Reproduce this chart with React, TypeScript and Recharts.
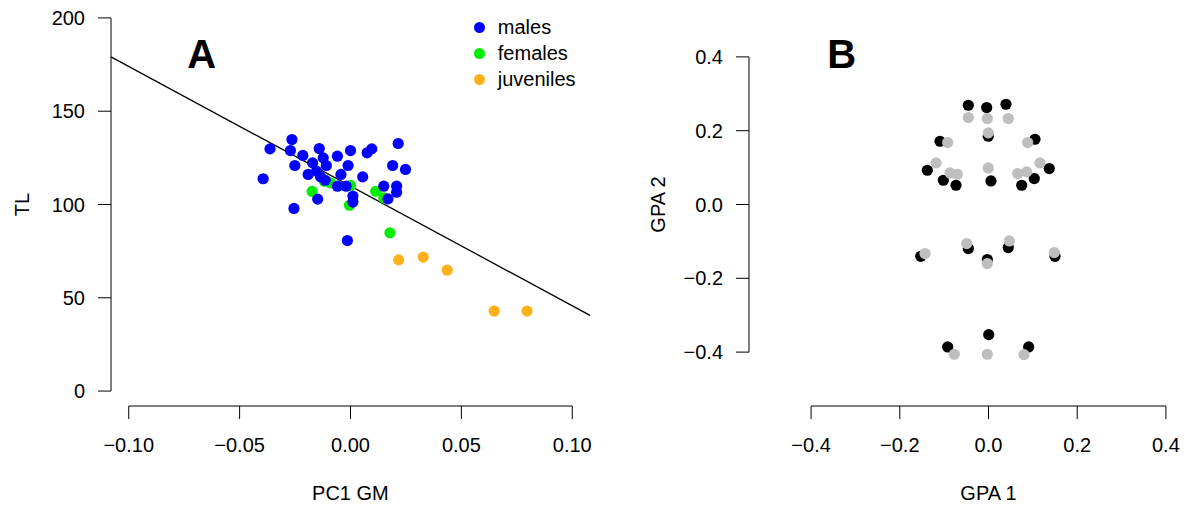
import React from 'react';
import { ScatterChart, Scatter, XAxis, YAxis, ReferenceLine, Legend, Customized } from 'recharts';

const FONT = '"Liberation Sans", Arial, Helvetica, sans-serif';

// ---------- Panel A data (PC1 GM vs TL) ----------
const malesPC1 = [-0.0394, -0.0363, -0.0264, -0.0271, -0.0251, -0.0255, -0.0215, -0.0191, -0.0171, -0.0141, -0.0123, -0.0109, -0.0148, -0.0153, -0.0135, -0.0114, -0.0059, 0.0, -0.0011, -0.0043, -0.0059, -0.002, 0.0011, 0.0011, -0.0014, 0.0055, 0.0075, 0.0096, 0.015, 0.0169, 0.019, 0.0208, 0.0208, 0.0215, 0.0248];
const malesTL = [113.8, 129.8, 134.8, 128.9, 120.9, 97.9, 126.3, 116.1, 122.3, 130.0, 125.0, 120.9, 102.9, 117.9, 114.8, 113.0, 125.9, 128.9, 120.9, 116.1, 109.8, 109.8, 104.5, 101.3, 80.7, 114.8, 127.7, 129.8, 109.8, 103.0, 120.9, 109.8, 106.6, 132.7, 118.8];
const femalesPC1 = [-0.0173, -0.0118, -0.0091, 0.0, -0.0005, 0.0114, 0.015, 0.0178];
const femalesTL = [107.0, 112.5, 111.6, 110.2, 99.6, 107.1, 103.6, 84.8];
const juvenilesPC1 = [0.0217, 0.0328, 0.0436, 0.0648, 0.0796];
const juvenilesTL = [70.3, 71.8, 64.8, 42.9, 42.9];
const fitLinePC1 = [-0.108, 0.108];
const fitLineTL = [179.1, 40.6];

const seriesNamesA = ['males', 'females', 'juveniles'];
const seriesColorsA = ['#0000FF', '#00EE00', '#FFB11B'];

const xTicksA = [-0.1, -0.05, 0, 0.05, 0.1];
const yTicksA = [0, 50, 100, 150, 200];

// ---------- Panel B data (GPA 1 vs GPA 2) ----------
const blackGPA1 = [-0.0455, -0.0041, 0.0394, -0.1093, -0.0005, 0.1048, -0.1379, -0.1018, -0.0732, 0.0056, 0.0748, 0.1032, 0.137, -0.1528, -0.0455, -0.0027, 0.0446, 0.1499, 0.0005, -0.092, 0.0906];
const blackGPA2 = [0.269, 0.2627, 0.2717, 0.1714, 0.185, 0.1768, 0.0928, 0.0657, 0.0522, 0.0638, 0.0522, 0.0703, 0.0974, -0.1403, -0.1194, -0.1492, -0.1167, -0.1403, -0.3526, -0.386, -0.386];
const greyGPA1 = [-0.0455, -0.0027, 0.0446, -0.092, -0.0005, 0.0883, -0.1183, -0.0868, -0.0703, -0.0005, 0.0658, 0.0861, 0.116, -0.1431, -0.0491, -0.0027, 0.0469, 0.1483, -0.0771, -0.0027, 0.08];
const greyGPA2 = [0.2356, 0.2329, 0.2329, 0.1679, 0.194, 0.1679, 0.1126, 0.0855, 0.082, 0.0991, 0.0839, 0.0883, 0.1126, -0.1329, -0.1058, -0.16, -0.0988, -0.1302, -0.4058, -0.4058, -0.4067];

const xTicksB = [-0.4, -0.2, 0, 0.2, 0.4];
const yTicksB = [-0.4, -0.2, 0, 0.2, 0.4];

const zip = (xs: number[], ys: number[]) => xs.map((x, i) => ({ x, y: ys[i] }));

const males = zip(malesPC1, malesTL);
const females = zip(femalesPC1, femalesTL);
const juveniles = zip(juvenilesPC1, juvenilesTL);
const blackPts = zip(blackGPA1, blackGPA2);
const greyPts = zip(greyGPA1, greyGPA2);

const minus = (s: string) => s.replace('-', '\u2212');
const fmt2 = (v: number) => minus((Math.abs(v) < 1e-9 ? 0 : v).toFixed(2));
const fmt1 = (v: number) => minus((Math.abs(v) < 1e-9 ? 0 : v).toFixed(1));

const tickStyle = { fill: '#000', fontSize: 20, fontFamily: FONT };
const tickLineStyle = { stroke: '#000', strokeWidth: 1 };

const dot = (color: string) => (p: any) => (
  <circle cx={p.cx} cy={p.cy} r={5.6} fill={color} stroke="none" />
);

const LegendA = (props: any) => {
  const payload = (props.payload || []).filter((e: any) => seriesNamesA.includes(e.value));
  const entries = payload.length
    ? [...payload].sort((a: any, b: any) => seriesNamesA.indexOf(a.value) - seriesNamesA.indexOf(b.value)).map((e: any) => ({ name: e.value, color: e.color }))
    : seriesNamesA.map((n, i) => ({ name: n, color: seriesColorsA[i] }));
  return (
    <div style={{ fontFamily: FONT, fontSize: 20, color: '#000' }}>
      {entries.map((e: any) => (
        <div key={e.name} style={{ display: 'flex', alignItems: 'center', height: 26 }}>
          <span style={{ display: 'inline-block', width: 11, height: 11, borderRadius: '50%', background: e.color, marginRight: 13 }} />
          <span>{e.name}</span>
        </div>
      ))}
    </div>
  );
};

const TextsA = () => (
  <g fontFamily={FONT} fill="#000">
    <text x={201.7} y={68.3} fontSize={40} fontWeight="bold" textAnchor="middle">A</text>
    <text x={21.7} y={204.5} fontSize={20} textAnchor="middle" dy="0.36em" transform="rotate(-90 21.7 204.5)">TL</text>
    <text x={350.4} y={500} fontSize={20} textAnchor="middle">PC1 GM</text>
  </g>
);

const TextsB = () => (
  <g fontFamily={FONT} fill="#000">
    <text x={221.7} y={68.3} fontSize={40} fontWeight="bold" textAnchor="middle">B</text>
    <text x={38.3} y={204.5} fontSize={20} textAnchor="middle" dy="0.36em" transform="rotate(-90 38.3 204.5)">GPA 2</text>
    <text x={368.5} y={500} fontSize={20} textAnchor="middle">GPA 1</text>
  </g>
);

const X_DOMAIN_A: [number, number] = [-0.108, 0.108];
const Y_DOMAIN_A: [number, number] = [-8, 208];
const X_DOMAIN_B: [number, number] = [-0.54, 0.54];
const Y_DOMAIN_B: [number, number] = [-0.546, 0.546];

export default function App() {
  return (
    <div style={{ position: 'absolute', left: 0, top: 0, width: 1185, height: 506, overflow: 'hidden', background: '#fff' }}>
      <div style={{ position: 'absolute', left: 0, top: 0 }}>
        <ScatterChart width={600} height={506} margin={{ top: 3, right: 10, bottom: 0, left: 0 }}>
          <XAxis type="number" dataKey="x" domain={X_DOMAIN_A} ticks={xTicksA} tickFormatter={fmt2} axisLine={false}
            tickSize={13} tickMargin={19} tick={tickStyle} tickLine={tickLineStyle} height={100} allowDataOverflow interval={0} />
          <YAxis type="number" dataKey="y" domain={Y_DOMAIN_A} ticks={yTicksA} axisLine={false}
            tickSize={13} tickMargin={13} tick={tickStyle} tickLine={tickLineStyle} width={111} allowDataOverflow interval={0} />
          <ReferenceLine ifOverflow="visible" stroke="#000" strokeWidth={1}
            segment={[{ x: X_DOMAIN_A[0], y: yTicksA[0] }, { x: X_DOMAIN_A[0], y: yTicksA[yTicksA.length - 1] }]} />
          <ReferenceLine ifOverflow="visible" stroke="#000" strokeWidth={1}
            segment={[{ x: xTicksA[0], y: Y_DOMAIN_A[0] }, { x: xTicksA[xTicksA.length - 1], y: Y_DOMAIN_A[0] }]} />
          <ReferenceLine ifOverflow="visible" stroke="#000" strokeWidth={1.3}
            segment={[{ x: fitLinePC1[0], y: fitLineTL[0] }, { x: fitLinePC1[1], y: fitLineTL[1] }]} />
          <Scatter name={seriesNamesA[1]} data={females} fill={seriesColorsA[1]} shape={dot(seriesColorsA[1])} legendType="circle" isAnimationActive={false} />
          <Scatter name={seriesNamesA[0]} data={males} fill={seriesColorsA[0]} shape={dot(seriesColorsA[0])} legendType="circle" isAnimationActive={false} />
          <Scatter name={seriesNamesA[2]} data={juveniles} fill={seriesColorsA[2]} shape={dot(seriesColorsA[2])} legendType="circle" isAnimationActive={false} />
          <Legend layout="vertical" align="center" verticalAlign="middle" content={<LegendA />}
            wrapperStyle={{ left: 473.8, top: 14.7, width: 'auto' }} />
          <Customized component={<TextsA />} />
        </ScatterChart>
      </div>
      <div style={{ position: 'absolute', left: 620, top: 0 }}>
        <ScatterChart width={608} height={506} margin={{ top: 3, right: 0, bottom: 0, left: 0 }}>
          <XAxis type="number" dataKey="x" domain={X_DOMAIN_B} ticks={xTicksB} tickFormatter={fmt1} axisLine={false}
            tickSize={13} tickMargin={19} tick={tickStyle} tickLine={tickLineStyle} height={100} allowDataOverflow interval={0} />
          <YAxis type="number" dataKey="y" domain={Y_DOMAIN_B} ticks={yTicksB} tickFormatter={fmt1} axisLine={false}
            tickSize={13} tickMargin={13} tick={tickStyle} tickLine={tickLineStyle} width={129} allowDataOverflow interval={0} />
          <ReferenceLine ifOverflow="visible" stroke="#000" strokeWidth={1}
            segment={[{ x: X_DOMAIN_B[0], y: yTicksB[0] }, { x: X_DOMAIN_B[0], y: yTicksB[yTicksB.length - 1] }]} />
          <ReferenceLine ifOverflow="visible" stroke="#000" strokeWidth={1}
            segment={[{ x: xTicksB[0], y: Y_DOMAIN_B[0] }, { x: xTicksB[xTicksB.length - 1], y: Y_DOMAIN_B[0] }]} />
          <Scatter name="reference" data={blackPts} fill="#000" shape={dot('#000000')} isAnimationActive={false} />
          <Scatter name="target" data={greyPts} fill="#BEBEBE" shape={dot('#BEBEBE')} isAnimationActive={false} />
          <Customized component={<TextsB />} />
        </ScatterChart>
      </div>
    </div>
  );
}
